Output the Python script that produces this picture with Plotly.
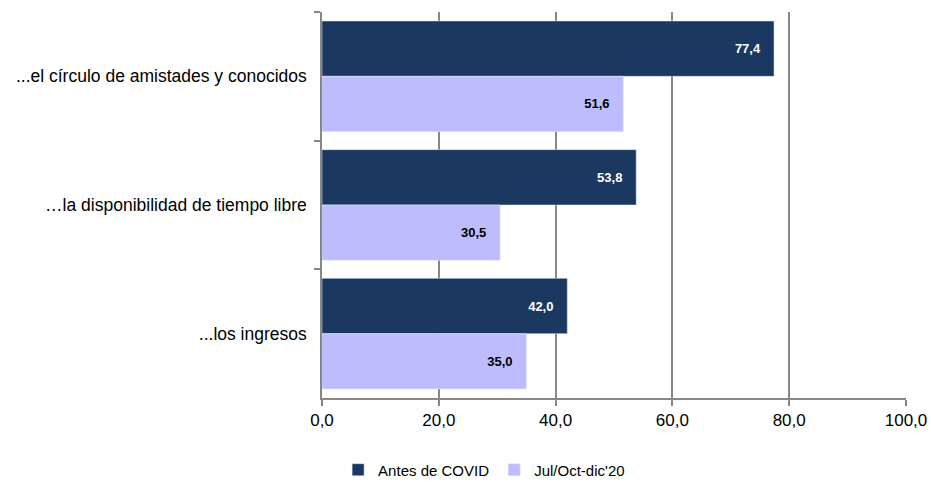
import plotly.graph_objects as go

# categories, top to bottom
categorias = ["...el círculo de amistades y conocidos",
              "…la disponibilidad de tiempo libre",
              "...los ingresos"]
antes = [77.4, 53.8, 42.0]
despues = [51.6, 30.5, 35.0]
series_names = ["Antes de COVID", "Jul/Oct-dic'20"]
x_ticks = [0, 20, 40, 60, 80, 100]

pad = "\u00a0" * 3

fig = go.Figure()
fig.add_trace(go.Bar(
    y=categorias, x=antes, name=series_names[0], orientation="h",
    marker=dict(color="#1B3860"),
    texttemplate="%{x:.1f}" + pad, textposition="inside", insidetextanchor="end",
    textfont=dict(color="white", size=13, family="Liberation Sans", weight="bold"),
))
fig.add_trace(go.Bar(
    y=categorias, x=despues, name=series_names[1], orientation="h",
    marker=dict(color="#BDBDFE"),
    texttemplate="%{x:.1f}" + pad, textposition="inside", insidetextanchor="end",
    textfont=dict(color="black", size=13, family="Liberation Sans", weight="bold"),
))

fig.update_layout(
    width=931, height=482,
    barmode="group", bargap=0.14, bargroupgap=0,
    separators=",.",
    plot_bgcolor="white", paper_bgcolor="white",
    margin=dict(l=322, r=25, t=12, b=84),
    font=dict(family="Liberation Sans", size=17, color="black"),
    # container coords so the legend does not push the bottom margin
    legend=dict(orientation="h", x=0.52, xanchor="center", xref="container",
                y=0.025, yanchor="middle", yref="container",
                font=dict(size=15), traceorder="normal", itemwidth=30),
    uniformtext=dict(mode="show", minsize=13),
)
fig.update_xaxes(
    range=[0, 100], tickvals=x_ticks, tickformat=".1f",
    showgrid=True, gridcolor="#878787", gridwidth=2,
    showline=True, linecolor="#878787", linewidth=2,
    ticks="outside", ticklen=6, tickcolor="#878787", tickwidth=2,
    zeroline=False, tickfont=dict(size=17), automargin=False,
)
fig.update_yaxes(
    autorange="reversed",
    showline=True, linecolor="#878787", linewidth=2,
    ticks="outside", tickson="boundaries", ticklen=6, tickcolor="#878787", tickwidth=2,
    showgrid=False, tickfont=dict(size=17.5), ticksuffix="  ", automargin=False,
)

# drop the default 8px page margin so the figure fills the window exactly
fig.write_html("out.html", config={"displayModeBar": False},
               post_script="document.body.style.margin = '0';")
